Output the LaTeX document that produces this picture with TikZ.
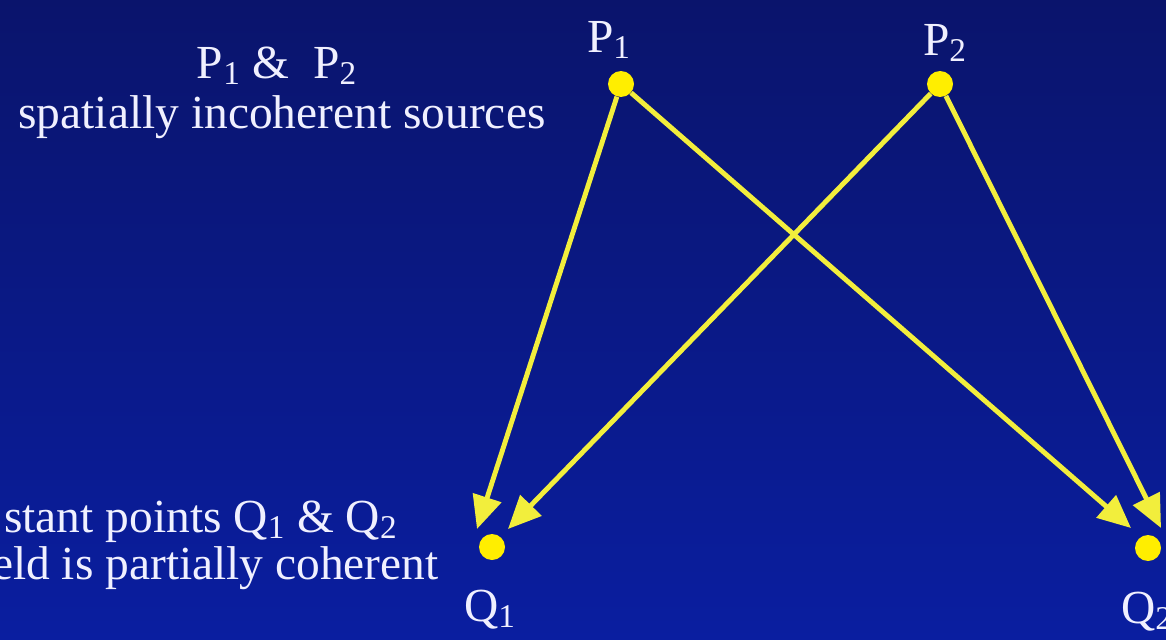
\documentclass[tikz,border=0pt]{standalone}
\usepackage{fontspec}
\setmainfont{Liberation Serif}
\usetikzlibrary{arrows.meta,positioning}
\definecolor{navytop}{RGB}{10,20,108}
\definecolor{navybot}{RGB}{10,30,160}
\definecolor{raycol}{RGB}{242,238,60}
\definecolor{dotcol}{RGB}{255,238,0}
\definecolor{txtcol}{RGB}{240,240,255}

\begin{document}
\begin{tikzpicture}[x=0.02cm, y=-0.02cm,
  point/.style={circle, fill=dotcol, inner sep=0pt, minimum size=0.52cm},
  txt/.style={text=txtcol, font=\fontsize{27}{32}\selectfont, inner sep=0pt},
  ray/.style={draw=raycol, line width=2.8pt, -{Triangle[length=0.66cm, width=0.58cm]}}
]
\useasboundingbox (0,0) rectangle (1166,639);
\fill[top color=navytop, bottom color=navybot] (0,0) rectangle (1166,639);
% sources and far points
\node[point] (p1) at (621,84) {};
\node[point] (p2) at (940,84) {};
\node[point] (q1) at (492,547) {};
\node[point] (q2) at (1148,548) {};
\node[txt, anchor=base] (p1txt) at (609,52) {P\textsubscript{1}};
\node[txt, anchor=base] (p2txt) at (945,55) {P\textsubscript{2}};
\node[txt, anchor=base] (q1txt) at (490,621) {Q\textsubscript{1}};
\node[txt, anchor=base] (q2txt) at (1147,623) {Q\textsubscript{2}};
% captions
\node[txt, anchor=base] (srctop) at (277,78) {P\textsubscript{1} \&\ \ P\textsubscript{2}};
\node[txt, anchor=base] (srcbot) at (282,128) {spatially incoherent sources};
\node[txt, anchor=base east] (fartop) at (398,532) {stant points Q\textsubscript{1} \& Q\textsubscript{2}};
\node[txt, anchor=base east] (farbot) at (439,579) {eld is partially coherent};
% rays
\coordinate (q1a) at (477,529);
\coordinate (q1b) at (508,529);
\coordinate (q2a) at (1131,528);
\coordinate (q2b) at (1161,528);
\draw[ray] (p1) -- (q1a);
\draw[ray] (p2) -- (q1b);
\draw[ray] (p1) -- (q2a);
\draw[ray] (p2) -- (q2b);
\end{tikzpicture}
\end{document}
